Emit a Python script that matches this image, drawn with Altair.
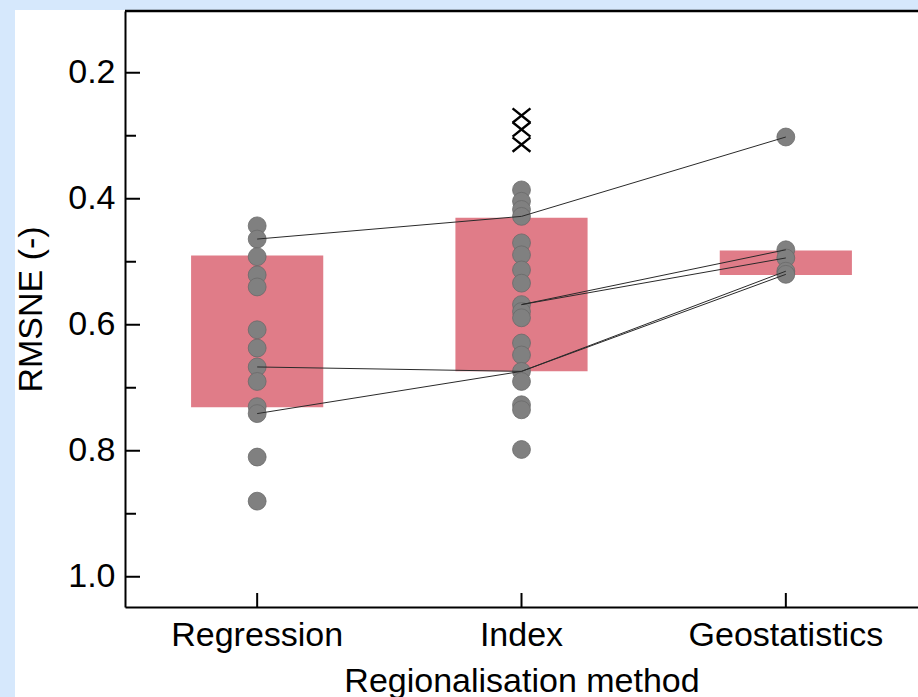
import altair as alt
import pandas as pd

# Regionalisation methods along the x axis
methods = ["Regression", "Index", "Geostatistics"]

# Bar extents (RMSNE range per method)
bar_top = [0.490, 0.430, 0.482]
bar_bottom = [0.731, 0.674, 0.521]

# Individual RMSNE results per method
regression_vals = [0.443, 0.464, 0.492, 0.521, 0.540, 0.608, 0.637, 0.667,
                   0.690, 0.730, 0.741, 0.810, 0.880]
index_vals = [0.386, 0.404, 0.417, 0.428, 0.470, 0.489, 0.513, 0.534, 0.568,
              0.579, 0.589, 0.629, 0.648, 0.674, 0.690, 0.727, 0.735, 0.798]
geo_vals = [0.302, 0.481, 0.494, 0.515, 0.520]

# Outliers for the Index method (drawn as crosses)
index_outliers = [0.268, 0.290, 0.314]

# Studies comparing several methods (connected by lines)
pair_ids = ["A", "A", "A", "B", "B", "B", "C", "C", "C", "D", "D", "E", "E"]
pair_methods = ["Regression", "Index", "Geostatistics",
                "Regression", "Index", "Geostatistics",
                "Regression", "Index", "Geostatistics",
                "Index", "Geostatistics",
                "Index", "Geostatistics"]
pair_vals = [0.464, 0.428, 0.302,
             0.667, 0.674, 0.515,
             0.741, 0.674, 0.520,
             0.568, 0.481,
             0.568, 0.494]

# Axis tick positions
major_ticks = [0.2, 0.4, 0.6, 0.8, 1.0]
minor_ticks = [0.3, 0.5, 0.7, 0.9]

W, H = 793, 596
FONT = "Liberation Sans"
FS = 34
BAR_COLOR = "#e07c88"
POINT_FILL = "#808080"
POINT_STROKE = "#6a6a6a"

bars = pd.DataFrame({"method": methods, "value": bar_top, "value2": bar_bottom})
points = pd.DataFrame({
    "method": ["Regression"] * len(regression_vals)
    + ["Index"] * len(index_vals)
    + ["Geostatistics"] * len(geo_vals),
    "value": regression_vals + index_vals + geo_vals,
})
outliers = pd.DataFrame({"method": ["Index"] * len(index_outliers), "value": index_outliers})
pairs = pd.DataFrame({"pair": pair_ids, "method": pair_methods, "value": pair_vals})
pairs["step"] = pairs["method"].map({m: i for i, m in enumerate(methods)})
majors = pd.DataFrame({"value": major_ticks})
minors = pd.DataFrame({"value": minor_ticks})
xticks = pd.DataFrame({"method": methods})

xscale = alt.Scale(domain=methods, paddingInner=0.5, paddingOuter=0.25)
yscale = alt.Scale(domain=[0.102, 1.048], reverse=True, nice=False, zero=False)

xaxis = alt.Axis(
    title="Regionalisation method", labelAngle=0, ticks=False, tickSize=0,
    domainColor="black", domainWidth=2, labelFont=FONT, labelFontSize=FS,
    labelColor="black", labelPadding=11, labelLimit=0, labelOverlap=False,
    titleFont=FONT, titleFontSize=FS,
    titleFontWeight="normal", titleColor="black", titlePadding=12,
    grid=False, zindex=1,
)
yaxis = alt.Axis(
    title="RMSNE (-)", values=major_ticks, format=".1f", ticks=False, tickSize=0,
    domainColor="black", domainWidth=2, labelFont=FONT, labelFontSize=FS,
    labelColor="black", labelPadding=10, titleFont=FONT, titleFontSize=FS,
    titleFontWeight="normal", titleColor="black", titlePadding=19,
    grid=False, zindex=1,
)


def X():
    return alt.X("method:N", scale=xscale, axis=xaxis, sort=methods)


def Y():
    return alt.Y("value:Q", scale=yscale, axis=yaxis)


# White panel behind the plot and its axes
panel = alt.Chart(alt.Data(values=[{}])).mark_rect(color="white").encode(
    x=alt.value(-110), x2=alt.value(W + 10), y=alt.value(-1), y2=alt.value(H + 100)
)

bar_layer = alt.Chart(bars).mark_bar(color=BAR_COLOR, opacity=1).encode(
    x=X(), y=Y(), y2="value2:Q"
)

point_layer = alt.Chart(points).mark_point(
    shape="circle", filled=True, size=320, fill=POINT_FILL, stroke=POINT_STROKE,
    strokeWidth=0.8, opacity=1,
).encode(x=X(), y=Y())

line_layer = alt.Chart(pairs).mark_line(color="#2a2a2a", strokeWidth=1).encode(
    x=X(), y=Y(), detail="pair:N", order="step:Q"
)

cross_layer = alt.Chart(outliers).mark_point(
    shape="M-1,-0.8L1,0.8M-1,0.8L1,-0.8", filled=False, size=320,
    stroke="black", strokeWidth=2.4, opacity=1,
).encode(x=X(), y=Y())

major_tick_layer = alt.Chart(majors).mark_rule(color="black", strokeWidth=2).encode(
    y=Y(), x=alt.value(0), x2=alt.value(15)
)
minor_tick_layer = alt.Chart(minors).mark_rule(color="black", strokeWidth=2).encode(
    y=Y(), x=alt.value(0), x2=alt.value(11)
)
x_tick_layer = alt.Chart(xticks).mark_rule(color="black", strokeWidth=2).encode(
    x=X(), y=alt.value(H - 14), y2=alt.value(H)
)
top_border = alt.Chart(alt.Data(values=[{}])).mark_rule(color="black", strokeWidth=2.5).encode(
    x=alt.value(0), x2=alt.value(W), y=alt.value(0)
)

chart = alt.layer(
    panel, bar_layer, point_layer, line_layer, cross_layer,
    major_tick_layer, minor_tick_layer, x_tick_layer, top_border,
).properties(
    width=W, height=H,
    autosize=alt.AutoSizeParams(type="none"),
    padding={"left": 125, "top": 11, "right": 0, "bottom": 90},
    background="#d6e8fc",
).configure_view(stroke=None)

chart.save("out.html", embed_options={"renderer": "svg", "actions": False})
